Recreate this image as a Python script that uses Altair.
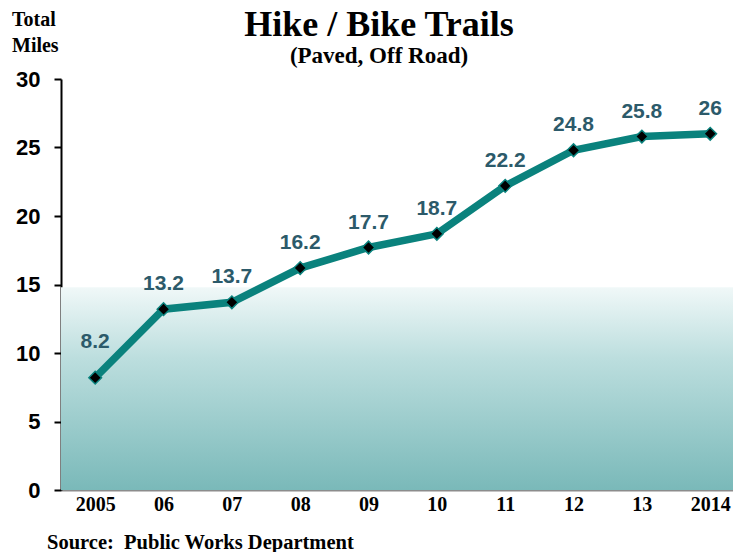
import altair as alt
import pandas as pd

years = ["2005", "06", "07", "08", "09", "10", "11", "12", "13", "2014"]
miles = [8.2, 13.2, 13.7, 16.2, 17.7, 18.7, 22.2, 24.8, 25.8, 26.0]
labels = ["8.2", "13.2", "13.7", "16.2", "17.7", "18.7", "22.2", "24.8", "25.8", "26"]

title_text = "Hike / Bike Trails"
subtitle_text = "(Paved, Off Road)"
ytitle_lines = ["Total", "Miles"]
source_text = "Source:\u00a0\u00a0Public Works Department"

df = pd.DataFrame({"year": years, "miles": miles, "label": labels})

W, H = 672, 411
PL, PT = 53, 71
SERIF = "Liberation Serif"
SANS = "Liberation Sans"
LINE_COLOR = "#0a827d"
LABEL_COLOR = "#2c5a6a"

xenc = alt.X("year:N", sort=None,
             scale=alt.Scale(type="point", padding=0.417, align=0.6),
             axis=alt.Axis(title=None, labelAngle=0, labelFont=SERIF, labelFontSize=20,
                           labelFontWeight="bold", labelColor="black", ticks=False,
                           domainColor="#8c8c8c", domainWidth=2, labelPadding=4))
yenc = alt.Y("miles:Q",
             scale=alt.Scale(domain=[0, 30], nice=False, zero=True),
             axis=alt.Axis(title=None, values=[0, 5, 10, 15, 20, 25, 30], grid=False,
                           labelFont=SANS, labelFontSize=22, labelFontWeight="bold",
                           labelColor="black", domainColor="black", domainWidth=2,
                           tickColor="black", tickWidth=2, tickSize=7, labelPadding=14))

gradient = {
    "gradient": "linear",
    "x1": 0, "y1": 0, "x2": 0, "y2": 1,
    "stops": [
        {"offset": 0, "color": "#f0f8f8"},
        {"offset": 0.35, "color": "#bcdede"},
        {"offset": 1, "color": "#7ab9b9"},
    ],
}

bg = alt.Chart(alt.Data(values=[{}])).mark_rect(fill=gradient).encode(
    x=alt.value(0), x2=alt.value(W),
    y=alt.datum(14.8, scale=alt.Scale(domain=[0, 30], nice=False)), y2=alt.datum(0),
)

base = alt.Chart(df)
line = base.mark_line(color=LINE_COLOR, strokeWidth=7.5).encode(x=xenc, y=yenc)
pts = base.mark_point(shape="diamond", filled=True, fill="black", stroke=LINE_COLOR,
                      strokeWidth=1.5, size=160, opacity=1).encode(x=xenc, y=yenc)
txt = base.transform_filter(alt.datum.year != years[0]).mark_text(
    font=SANS, fontSize=21, fontWeight="bold", color=LABEL_COLOR,
    baseline="alphabetic", dy=-19).encode(x=xenc, y=yenc, text="label:N")
txt_first = base.transform_filter(alt.datum.year == years[0]).mark_text(
    font=SANS, fontSize=21, fontWeight="bold", color=LABEL_COLOR,
    baseline="alphabetic", dy=-30).encode(x=xenc, y=yenc, text="label:N")


def note(text, x, y, size, align="left"):
    return alt.Chart(alt.Data(values=[{}])).mark_text(
        font=SERIF, fontSize=size, fontWeight="bold", color="black",
        align=align, baseline="alphabetic").encode(
        x=alt.value(x - 8 - PL), y=alt.value(y - 8 - PT), text=alt.value(text))


notes = [
    note(title_text, 379, 36, 36, "center"),
    note(subtitle_text, 379, 63, 23, "center"),
    note(ytitle_lines[0], 12, 26, 20),
    note(ytitle_lines[1], 12, 52, 20),
    note(source_text, 47, 549, 20.5),
]

chart = alt.layer(bg, line, pts, txt, txt_first, *notes).properties(
    width=W, height=H,
    autosize=alt.AutoSizeParams(type="none"),
    padding={"left": PL, "top": PT, "right": 0, "bottom": 66},
).configure_view(stroke=None)

chart.save("out.html", embed_options={"renderer": "svg", "actions": False})
